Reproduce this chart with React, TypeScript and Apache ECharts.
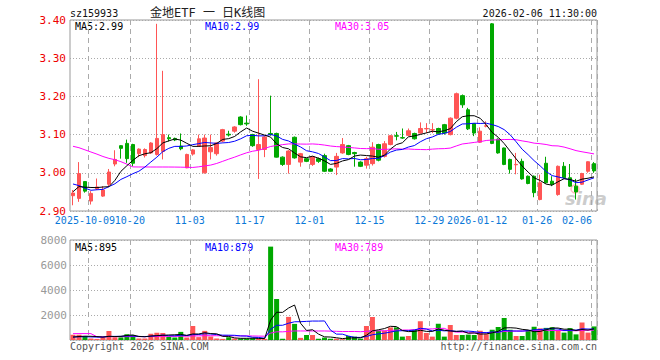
import { useEffect, useRef } from "react";
import * as echarts from "echarts";

const dates: string[] = [
  "2025-09-26","2025-09-29","2025-09-30","2025-10-09","2025-10-10","2025-10-13","2025-10-14","2025-10-15","2025-10-16","2025-10-17",
  "2025-10-20","2025-10-21","2025-10-22","2025-10-23","2025-10-24","2025-10-27","2025-10-28","2025-10-29","2025-10-30","2025-10-31",
  "2025-11-03","2025-11-04","2025-11-05","2025-11-06","2025-11-07","2025-11-10","2025-11-11","2025-11-12","2025-11-13","2025-11-14",
  "2025-11-17","2025-11-18","2025-11-19","2025-11-20","2025-11-21","2025-11-24","2025-11-25","2025-11-26","2025-11-27","2025-11-28",
  "2025-12-01","2025-12-02","2025-12-03","2025-12-04","2025-12-05","2025-12-08","2025-12-09","2025-12-10","2025-12-11","2025-12-12",
  "2025-12-15","2025-12-16","2025-12-17","2025-12-18","2025-12-19","2025-12-22","2025-12-23","2025-12-24","2025-12-25","2025-12-26",
  "2025-12-29","2025-12-30","2025-12-31","2026-01-05","2026-01-06","2026-01-07","2026-01-08","2026-01-09",
  "2026-01-12","2026-01-13","2026-01-14","2026-01-15","2026-01-16","2026-01-19","2026-01-20","2026-01-21","2026-01-22","2026-01-23",
  "2026-01-26","2026-01-27","2026-01-28","2026-01-29","2026-01-30","2026-02-02","2026-02-03","2026-02-04","2026-02-05","2026-02-06",
];

const opens: number[] = [
  2.940,2.933,2.977,2.926,2.958,2.939,2.970,3.023,3.071,3.077,
  3.074,3.050,3.045,3.052,3.048,3.056,3.092,3.090,3.070,3.013,
  3.049,3.070,3.000,3.055,3.050,3.083,3.101,3.109,3.146,3.130,
  3.100,3.061,3.061,3.103,3.103,3.041,3.022,3.093,3.028,3.037,
  3.022,3.037,3.045,3.010,3.015,3.052,3.071,3.053,3.028,3.020,
  3.024,3.074,3.043,3.074,3.097,3.092,3.098,3.103,3.104,3.115,
  3.112,3.116,3.126,3.100,3.143,3.202,3.165,3.129,
  3.080,3.122,3.390,3.088,3.065,3.035,3.021,3.030,2.991,2.991,
  2.930,3.025,2.978,2.943,3.017,2.987,2.965,2.970,3.004,3.024,
];
const closes: number[] = [
  2.947,2.998,2.952,2.946,2.963,2.955,3.002,3.035,3.064,3.037,
  3.025,3.062,3.061,3.078,3.090,3.100,3.089,3.086,3.063,3.048,
  3.060,3.089,3.091,3.066,3.078,3.113,3.099,3.120,3.126,3.128,
  3.071,3.074,3.094,3.100,3.041,3.022,3.057,3.039,3.050,3.030,
  3.042,3.030,3.004,3.004,3.043,3.074,3.048,3.050,3.017,3.037,
  3.067,3.033,3.076,3.097,3.096,3.091,3.110,3.089,3.116,3.116,
  3.113,3.102,3.104,3.143,3.207,3.178,3.115,3.104,
  3.109,3.123,3.077,3.052,3.022,3.009,3.022,2.984,2.972,2.948,
  2.974,2.974,2.970,3.017,2.987,2.965,2.950,2.998,3.029,3.005,
];
const highs: number[] = [
  2.955,3.028,2.978,2.952,2.985,2.965,3.010,3.059,3.072,3.087,
  3.076,3.064,3.064,3.080,3.390,3.267,3.100,3.092,3.103,3.050,
  3.062,3.100,3.100,3.100,3.080,3.115,3.110,3.122,3.148,3.150,
  3.102,3.245,3.096,3.202,3.105,3.043,3.059,3.095,3.052,3.038,
  3.044,3.040,3.050,3.012,3.052,3.091,3.073,3.055,3.030,3.042,
  3.080,3.076,3.083,3.099,3.107,3.116,3.116,3.105,3.132,3.130,
  3.130,3.118,3.128,3.145,3.210,3.205,3.170,3.130,
  3.119,3.135,3.392,3.090,3.066,3.037,3.052,3.037,2.993,2.993,
  2.995,3.042,2.991,3.019,3.028,3.023,2.984,3.000,3.030,3.028,
];
const lows: number[] = [
  2.915,2.924,2.948,2.917,2.955,2.937,2.965,3.017,3.037,3.026,
  3.017,3.041,3.040,3.050,3.045,3.035,3.082,3.083,3.059,3.012,
  3.045,3.068,2.998,3.035,3.045,3.080,3.095,3.105,3.124,3.123,
  3.068,2.984,3.041,3.097,3.040,3.018,2.998,3.037,3.016,3.028,
  3.018,3.026,3.002,3.003,2.994,3.050,3.046,3.016,3.015,3.011,
  3.019,3.030,3.040,3.072,3.085,3.089,3.096,3.087,3.102,3.104,
  3.104,3.100,3.100,3.098,3.140,3.170,3.112,3.096,
  3.078,3.119,3.075,3.050,3.020,2.998,2.996,2.982,2.970,2.936,
  2.928,2.972,2.965,2.940,2.985,2.963,2.930,2.968,3.000,3.000,
];
const volumes: number[] = [
  420,420,320,120,90,220,720,220,210,460,
  400,120,120,500,580,560,250,200,650,200,
  1120,230,730,280,120,90,220,120,120,120,
  150,110,90,7470,3280,100,1850,1290,170,400,
  400,100,190,100,110,60,320,270,110,1120,
  1840,750,750,1010,1010,270,320,800,1500,560,
  270,1300,270,1200,400,400,430,400,
  740,470,820,1040,1760,820,320,320,800,1060,
  930,970,1025,800,590,950,450,1400,590,1085,
];
// closes / volumes before the visible window, estimated from where the MA lines start
const priorCloses: number[] = [
  3.11,3.12,3.115,3.13,3.14,3.15,3.14,3.22,3.23,3.24,
  3.07,3.06,3.08,3.09,3.10,3.09,3.09,3.07,3.06,3.07,
  3.04,3.02,3.00,2.95,2.945,2.93,2.96,2.95,2.965,
];
const priorVolumes: number[] = [
  310,280,260,7540,340,300,270,250,290,320,
  260,240,300,280,230,270,310,260,250,280,
  240,300,260,220,210,180,190,170,200,
];
const tickDates: string[] = ["2025-10-09","2025-10-20","2025-11-03","2025-11-17","2025-12-01","2025-12-15","2025-12-29","2026-01-12","2026-01-26","2026-02-06"];
const tickLabels: string[] = ["2025-10-09","10-20","11-03","11-17","12-01","12-15","12-29","2026-01-12","01-26","02-06"];
const priceTicks = { min: 2.9, max: 3.4, interval: 0.1 };
const volTicks = { min: 0, max: 8000, interval: 2000 };

const RED = "#ff5555";
const GREEN = "#00a800";
const MONO = "'DejaVu Sans Mono', monospace";

function movingAverage(prior: number[], vals: number[], n: number): number[] {
  const all = prior.concat(vals);
  const off = prior.length;
  return vals.map((_, i) => {
    const end = off + i;
    let s = 0;
    for (let k = end - n + 1; k <= end; k++) s += all[k];
    return s / n;
  });
}

export default function App() {
  const ref = useRef<HTMLDivElement>(null);
  useEffect(() => {
    if (!ref.current) return;
    const chart = echarts.init(ref.current, undefined, { renderer: "svg" });
    const ma5 = movingAverage(priorCloses, closes, 5);
    const ma10 = movingAverage(priorCloses, closes, 10);
    const ma30 = movingAverage(priorCloses, closes, 30);
    const vma5 = movingAverage(priorVolumes, volumes, 5);
    const vma10 = movingAverage(priorVolumes, volumes, 10);
    const vma30 = movingAverage(priorVolumes, volumes, 30);
    const last = closes.length - 1;
    const labelMap: Record<string, string> = {};
    tickDates.forEach((d, i) => (labelMap[d] = tickLabels[i]));
    const lastDate = dates[last];
    const firstDate = tickDates[0];

    const splitX = {
      show: true,
      interval: (_i: number, v: string) => labelMap[v] !== undefined,
      lineStyle: { color: "#aaa", type: [5, 4] as any, width: 1 },
    };
    const txt = (text: string, x: number, y: number, fill: string, align = "left", size = 10, family = MONO) => ({
      type: "text",
      x,
      y,
      silent: true,
      style: { text, fill, fontSize: size, fontFamily: family, textAlign: align, textVerticalAlign: "middle" },
    });

    const option: any = {
      animation: false,
      backgroundColor: "#fff",
      grid: [
        { left: 70, top: 20, width: 527, height: 191, show: true, borderColor: "#999", borderWidth: 1, backgroundColor: "transparent" },
        { left: 70, top: 240, width: 527, height: 100, show: true, borderColor: "#999", borderWidth: 1, backgroundColor: "transparent" },
      ],
      xAxis: [
        {
          type: "category",
          gridIndex: 0,
          data: dates,
          boundaryGap: true,
          axisLine: { show: false },
          axisTick: { show: false },
          splitLine: splitX,
          axisLabel: {
            interval: 0,
            hideOverlap: false,
            margin: 4,
            alignMaxLabel: "right",
            formatter: (v: string) => {
              const t = labelMap[v];
              if (t === undefined) return "";
              if (v === lastDate) return `{z|${t}}`;
              if (v === firstDate) return `{f|${t}}`;
              return `{a|${t}}`;
            },
            rich: {
              a: { padding: [0, 6, 0, 0], fontFamily: MONO, fontSize: 10, color: "#0a78d8" },
              f: { padding: [0, 12, 0, 0], fontFamily: MONO, fontSize: 10, color: "#0a78d8" },
              z: { padding: [0, 2, 0, 0], fontFamily: MONO, fontSize: 10, color: "#0a78d8" },
            },
          },
        },
        {
          type: "category",
          gridIndex: 1,
          data: dates,
          boundaryGap: true,
          axisLine: { show: false },
          axisTick: { show: false },
          axisLabel: { show: false },
          splitLine: splitX,
        },
      ],
      yAxis: [
        {
          type: "value",
          gridIndex: 0,
          min: priceTicks.min,
          max: priceTicks.max,
          interval: priceTicks.interval,
          axisLine: { show: false },
          axisTick: { show: false },
          splitLine: { show: true, lineStyle: { color: "#aaa", type: [1, 2] as any } },
          axisLabel: { margin: 4, fontFamily: MONO, fontSize: 11, color: "#ee0000", formatter: (v: number) => v.toFixed(2) },
        },
        {
          type: "value",
          gridIndex: 1,
          min: volTicks.min,
          max: volTicks.max,
          interval: volTicks.interval,
          axisLine: { show: false },
          axisTick: { show: false },
          splitLine: { show: true, lineStyle: { color: "#aaa", type: [1, 2] as any } },
          axisLabel: { margin: 3, fontFamily: MONO, fontSize: 11, color: "#999", formatter: (v: number) => (v === 0 ? "" : String(v)) },
        },
      ],
      series: [
        {
          type: "candlestick",
          xAxisIndex: 0,
          yAxisIndex: 0,
          barWidth: 4,
          data: closes.map((c, i) => [opens[i], c, lows[i], highs[i]]),
          itemStyle: { color: RED, color0: GREEN, borderColor: RED, borderColor0: GREEN, borderWidth: 1 },
        },
        { type: "line", xAxisIndex: 0, yAxisIndex: 0, data: ma30, symbol: "none", lineStyle: { color: "#ff00ff", width: 1 } },
        { type: "line", xAxisIndex: 0, yAxisIndex: 0, data: ma10, symbol: "none", lineStyle: { color: "#0000ff", width: 1 } },
        { type: "line", xAxisIndex: 0, yAxisIndex: 0, data: ma5, symbol: "none", lineStyle: { color: "#000", width: 1 } },
        {
          type: "bar",
          xAxisIndex: 1,
          yAxisIndex: 1,
          barWidth: 5,
          data: volumes.map((v, i) => ({ value: v, itemStyle: { color: closes[i] >= opens[i] ? RED : GREEN } })),
        },
        { type: "line", xAxisIndex: 1, yAxisIndex: 1, data: vma30, symbol: "none", lineStyle: { color: "#ff00ff", width: 1 } },
        { type: "line", xAxisIndex: 1, yAxisIndex: 1, data: vma10, symbol: "none", lineStyle: { color: "#0000ff", width: 1 } },
        { type: "line", xAxisIndex: 1, yAxisIndex: 1, data: vma5, symbol: "none", lineStyle: { color: "#000", width: 1 } },
      ],
      graphic: [
        txt("sz159933", 70, 13, "#111"),
        txt("金地ETF 一 日K线图", 150, 13, "#222", "left", 12, "'DejaVu Sans Mono', 'Noto Sans CJK SC', monospace"),
        txt("2026-02-06 11:30:00", 597, 13, "#111", "right"),
        txt(`MA5:${ma5[last].toFixed(2)}`, 75, 26, "#000"),
        txt(`MA10:${ma10[last].toFixed(2)}`, 205, 26, "#0000ff"),
        txt(`MA30:${ma30[last].toFixed(2)}`, 335, 26, "#ff00ff"),
        txt(`MA5:${Math.round(vma5[last])}`, 75, 247, "#000"),
        txt(`MA10:${Math.round(vma10[last])}`, 205, 247, "#0000ff"),
        txt(`MA30:${Math.round(vma30[last])}`, 335, 247, "#ff00ff"),
        txt("Copyright 2026 SINA.COM", 70, 346, "#555"),
        txt("http://finance.sina.com.cn", 597, 346, "#555", "right"),
        {
          type: "circle",
          silent: true,
          shape: { cx: 575, cy: 189, r: 4 },
          style: { fill: "none", stroke: "rgba(255,120,120,0.5)", lineWidth: 1.5 },
        },
        {
          type: "text",
          x: 565,
          y: 198,
          silent: true,
          style: { text: "sina", fill: "rgba(170,170,170,0.6)", fontSize: 18, fontStyle: "italic", fontWeight: "bold", fontFamily: "'DejaVu Sans', sans-serif", textAlign: "left", textVerticalAlign: "middle" },
        },
      ],
    };
    chart.setOption(option);
    return () => chart.dispose();
  }, []);
  return <div ref={ref} style={{ position: "fixed", left: 0, top: 0, width: 660, height: 360 }} />;
}
